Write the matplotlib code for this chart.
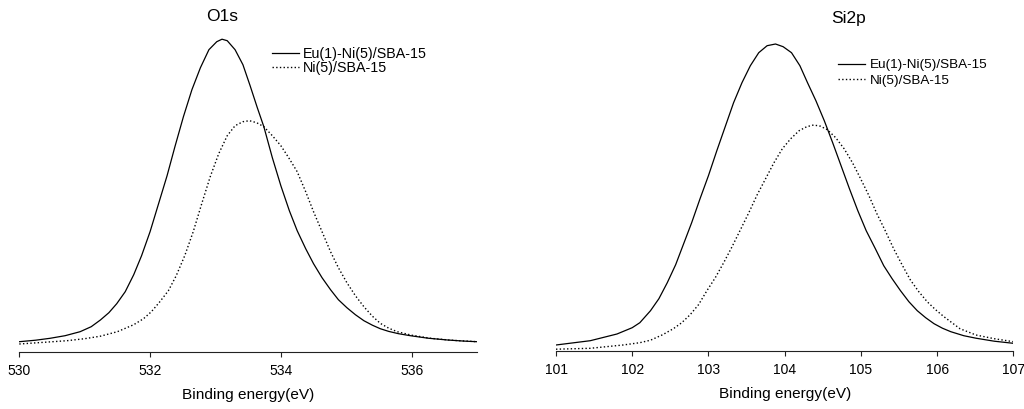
import matplotlib
matplotlib.use("Agg")
import matplotlib.pyplot as plt

plt.rcParams['font.family'] = ['Liberation Sans', 'DejaVu Sans']

# ---- O1s panel data (binding energy eV, intensity a.u.) ----
o1s_eu_energy = [530.00, 530.25, 530.47, 530.70, 530.93, 531.10, 531.24, 531.37, 531.49, 531.62,
                 531.75, 531.87, 532.00, 532.13, 532.26, 532.38, 532.51, 532.64, 532.77, 532.90,
                 533.02, 533.10, 533.18, 533.30, 533.42, 533.53, 533.64, 533.74, 533.87, 534.00,
                 534.13, 534.25, 534.38, 534.50, 534.63, 534.76, 534.88, 535.01, 535.14, 535.27,
                 535.40, 535.52, 535.65, 535.80, 535.98, 536.25, 536.55, 536.80, 537.00]
o1s_eu_int = [10.0, 11.5, 13.4, 16.0, 20.0, 25.0, 31.7, 39.0, 48.0, 60.0,
              77.0, 96.0, 120.0, 148.0, 176.0, 205.0, 235.0, 262.0, 284.0, 302.0,
              310.0, 312.5, 311.0, 302.0, 287.0, 266.0, 244.0, 225.0, 194.0, 166.0,
              141.0, 121.0, 103.0, 88.0, 74.0, 62.0, 52.0, 44.0, 37.0, 31.0,
              26.5, 23.0, 20.3, 18.0, 16.0, 13.5, 11.7, 10.6, 10.0]

o1s_ni_energy = [530.00, 530.40, 530.73, 531.00, 531.24, 531.50, 531.75, 531.90, 532.02, 532.15,
                 532.28, 532.40, 532.53, 532.66, 532.79, 532.92, 533.05, 533.18, 533.30, 533.42,
                 533.52, 533.63, 533.74, 533.87, 534.00, 534.12, 534.25, 534.38, 534.50, 534.63,
                 534.76, 534.88, 535.01, 535.14, 535.27, 535.40, 535.52, 535.65, 535.78, 536.00,
                 536.29, 536.60, 537.00]
o1s_ni_int = [7.7, 9.5, 11.0, 13.0, 15.5, 20.0, 27.0, 33.0, 40.0, 50.0,
              61.0, 76.0, 96.0, 120.0, 148.0, 175.0, 198.0, 216.0, 226.0, 230.0,
              231.0, 229.0, 225.0, 216.0, 206.0, 194.0, 180.0, 160.0, 140.0, 120.0,
              100.0, 84.0, 69.0, 56.0, 45.0, 35.5, 28.4, 23.5, 20.0, 16.5,
              13.4, 11.5, 10.0]

# ---- Si2p panel data ----
si2p_eu_energy = [101.00, 101.45, 101.80, 102.00, 102.10, 102.24, 102.35, 102.46, 102.57, 102.68,
                  102.78, 102.89, 103.00, 103.11, 103.22, 103.33, 103.44, 103.55, 103.66, 103.77,
                  103.88, 103.98, 104.09, 104.20, 104.30, 104.41, 104.52, 104.63, 104.74, 104.85,
                  104.96, 105.07, 105.19, 105.30, 105.41, 105.52, 105.63, 105.74, 105.85, 105.96,
                  106.07, 106.18, 106.35, 106.51, 106.75, 107.00]
si2p_eu_int = [5.7, 10.0, 16.7, 23.0, 28.0, 40.0, 52.0, 68.0, 86.0, 108.0,
               128.0, 152.0, 175.0, 200.0, 224.0, 248.0, 268.0, 285.0, 298.0, 305.0,
               306.7, 304.0, 298.0, 285.0, 268.0, 250.0, 230.0, 208.0, 185.0, 162.0,
               140.0, 120.0, 102.0, 85.0, 72.0, 60.0, 49.0, 40.0, 33.0, 27.0,
               22.5, 19.0, 15.0, 12.5, 9.5, 7.4]

si2p_ni_energy = [101.00, 101.45, 101.88, 102.10, 102.24, 102.40, 102.54, 102.65, 102.76, 102.87,
                  102.98, 103.09, 103.20, 103.31, 103.42, 103.53, 103.64, 103.75, 103.86, 103.97,
                  104.08, 104.19, 104.29, 104.38, 104.47, 104.56, 104.67, 104.78, 104.89, 104.99,
                  105.10, 105.21, 105.32, 105.43, 105.54, 105.65, 105.76, 105.87, 105.98, 106.09,
                  106.30, 106.51, 106.75, 107.00]
si2p_ni_int = [1.5, 2.4, 5.7, 8.0, 10.5, 16.0, 22.0, 28.0, 36.0, 46.0,
               60.0, 73.0, 88.0, 104.0, 121.0, 138.0, 156.0, 172.0, 188.0, 202.0,
               212.0, 220.0, 224.0, 225.7, 224.5, 221.0, 213.0, 202.0, 188.0, 173.0,
               156.0, 137.0, 120.0, 102.0, 86.0, 70.7, 59.0, 49.0, 41.0, 34.0,
               22.0, 15.7, 12.0, 9.0]

labels = ["Eu(1)-Ni(5)/SBA-15", "Ni(5)/SBA-15"]
o1s_ticks = [530, 532, 534, 536]
si2p_ticks = [101, 102, 103, 104, 105, 106, 107]

W, H = 1024, 409
fig = plt.figure(figsize=(W / 100, H / 100), dpi=100)

def px_axes(x0, x1, ytop, ybot):
    return fig.add_axes([x0 / W, (H - ybot) / H, (x1 - x0) / W, (ybot - ytop) / H])

ax1 = px_axes(19.3, 477.0, 30.0, 351.7)
ax2 = px_axes(556.0, 1013.3, 30.0, 350.7)

def style(ax, xlim, ylim, ticks):
    ax.set_xlim(*xlim)
    ax.set_ylim(*ylim)
    for s in ['left', 'right', 'top']:
        ax.spines[s].set_visible(False)
    ax.spines['bottom'].set_linewidth(0.8)
    ax.spines['bottom'].set_color('#222222')
    ax.set_yticks([])
    ax.set_xticks(ticks)
    ax.tick_params(axis='x', direction='out', length=3.6, width=0.8, color='#222222',
                   labelsize=10, pad=5.2)
    ax.set_xlabel("Binding energy(eV)", fontsize=11.1, labelpad=7.2)

style(ax1, (530, 537.0), (0, 321.7), o1s_ticks)
style(ax2, (101, 107), (0, 320.7), si2p_ticks)

ax1.plot(o1s_eu_energy, o1s_eu_int, color='black', lw=0.9, label=labels[0])
ax1.plot(o1s_ni_energy, o1s_ni_int, color='black', lw=1.0, linestyle=':', label=labels[1])
ax2.plot(si2p_eu_energy, si2p_eu_int, color='black', lw=0.9, label=labels[0])
ax2.plot(si2p_ni_energy, si2p_ni_int, color='black', lw=1.0, linestyle=':', label=labels[1])

ax1.legend(loc='upper left', bbox_to_anchor=(0.5515, 0.946), frameon=False,
           fontsize=10.3, borderpad=0, borderaxespad=0, handlelength=1.9,
           handletextpad=0.3, labelspacing=0.0)
ax2.legend(loc='upper left', bbox_to_anchor=(0.616, 0.91), frameon=False,
           fontsize=9.7, borderpad=0, borderaxespad=0, handlelength=2.05,
           handletextpad=0.35, labelspacing=0.25)

fig.text(222 / W, 1 - 20.7 / H, "O1s", ha='center', va='baseline', fontsize=12.5)
fig.text(849 / W, 1 - 23.5 / H, "Si2p", ha='center', va='baseline', fontsize=12.5)

fig.savefig("out.png", dpi=100)
